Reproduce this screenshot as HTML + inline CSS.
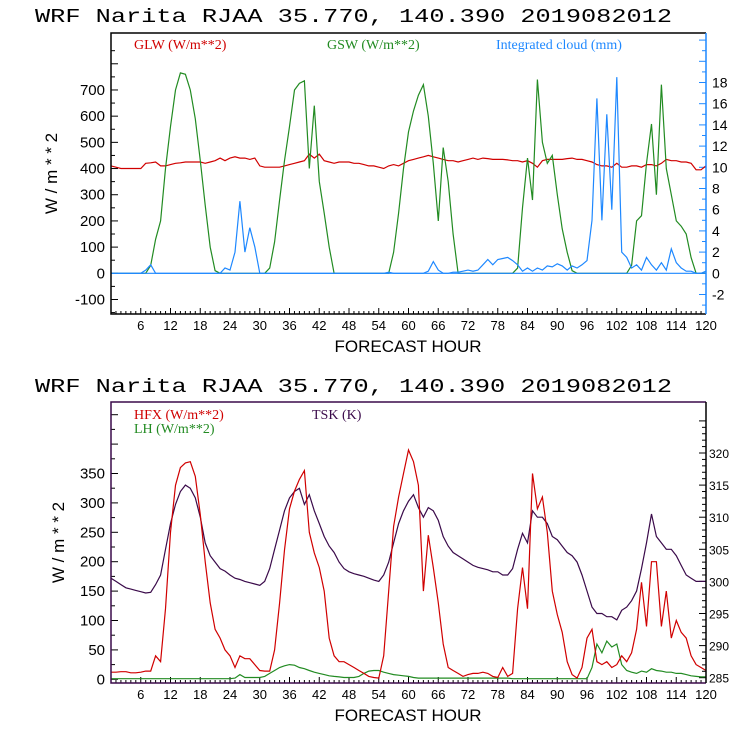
<!DOCTYPE html>
<html><head><meta charset="utf-8"><style>
body{margin:0;background:#fff}
svg{display:block}
</style></head><body>
<svg id="c" width="740" height="740" viewBox="0 0 740 740" xmlns="http://www.w3.org/2000/svg" font-family="Liberation Sans, sans-serif"></svg>
<script>
const hours=[];for(let i=0;i<=120;i++)hours.push(i);
const gsw=[0,0,0,0,0,0,0,0,30,130,200,400,560,700,765,760,700,590,430,260,100,10,0,0,0,0,0,0,0,0,0,0,20,120,280,430,560,700,725,735,400,640,350,230,100,0,0,0,0,0,0,0,0,0,0,0,0,80,230,400,540,620,680,720,600,420,200,480,350,150,0,0,0,0,0,0,0,0,0,0,0,0,20,250,440,280,740,500,420,450,300,170,80,10,0,0,0,0,0,0,0,0,0,0,0,30,200,220,420,570,300,720,400,300,200,180,150,60,0,0,0];
const glw=[410,405,400,400,400,400,400,420,422,425,410,410,415,420,422,425,425,425,425,420,425,430,440,430,440,445,440,440,435,440,410,405,405,405,405,410,415,420,425,430,455,440,455,430,425,420,425,425,425,420,420,415,410,410,405,400,410,415,410,420,430,435,440,445,450,445,440,435,430,430,425,430,435,440,435,440,438,435,435,435,433,430,430,425,430,420,405,430,435,435,435,435,438,440,435,435,430,425,415,410,410,405,420,405,405,410,410,405,415,415,410,420,435,430,430,425,425,420,395,395,410];
const cloud=[0,0,0,0,0,0,0,0.3,0.8,0,0,0,0,0,0,0,0,0,0,0,0,0,0,0.5,0.3,2,6.8,2,4.3,2.5,0,0,0,0,0,0,0,0,0,0,0,0,0,0,0,0,0,0,0,0,0,0,0,0,0,0,0.1,0,0,0,0,0,0,0,0.2,1.1,0.3,0,0,0.1,0.1,0.2,0.3,0.2,0.3,0.8,1.3,0.8,1.3,1.4,1.5,1.2,0.8,0.2,0.5,0.2,0.5,0.3,0.7,0.6,0.9,0.7,0.3,0.7,0.5,0.8,1.2,5,16.5,5,15,6,18.5,2,1.5,0.5,0.8,0.3,1.5,0.8,0.3,1,0.3,2.3,1,0.5,0.2,0.2,0,0,0.2];
const hfx=[12,12,13,13,11,11,12,14,14,40,30,120,250,330,360,368,370,345,280,200,130,85,70,50,40,20,40,35,35,25,15,14,14,50,130,220,290,320,340,355,250,215,190,150,70,40,30,30,25,20,15,10,5,3,2,40,150,260,310,350,390,370,330,150,245,190,130,60,20,15,10,5,8,10,10,12,10,5,3,20,5,10,120,190,120,350,290,310,250,150,110,80,30,8,2,20,70,85,30,25,30,20,25,40,30,45,85,165,90,200,200,90,150,70,100,80,70,40,25,20,15];
const lh=[1,1,1,1,1,1,1,1,1,1,1,1,1,1,1,1,1,1,1,1,1,1,1,1,1,2,8,3,3,3,3,5,10,15,20,23,25,24,20,18,15,12,10,8,6,5,4,3,3,3,5,10,14,15,15,12,10,8,7,6,5,3,2,2,2,2,2,2,2,2,2,2,2,2,2,2,2,2,2,2,2,1,1,1,1,1,1,1,1,1,1,1,1,1,1,1,1,20,60,45,65,55,60,25,15,12,10,14,12,18,15,14,12,12,10,10,8,6,5,4,4];
const tsk=[300.5,300,299.5,299,298.8,298.6,298.4,298.2,298.3,299.5,301,305,309,312,314,315,314.5,313,310,306,304,303,302,301.6,301,300.5,300.3,300,299.8,299.6,299.4,300,302,305,308,311,313,314,314.5,312,313.5,311,309,307,305.5,304.5,303,302,301.5,301.2,301,300.8,300.5,300.2,300,301,303,306,309,311,312.5,313.5,311.5,310,311.5,311,309.5,307,305.5,304.5,304,303.5,303,302.5,302.2,302,301.8,301.5,301.5,301,301,302,305,307.5,306,311,310,310,309,307,306.5,305.5,304.5,304,303,301,298.5,296,295,295,294.5,294.5,294,295.5,296,297,298.5,302,306,310.5,307,306,305,305,304,302.5,301,300.5,300,300,300];
const xTicks=[6,12,18,24,30,36,42,48,54,60,66,72,78,84,90,96,102,108,114,120];
const topLeftTicks=[-100,0,100,200,300,400,500,600,700];
const topRightTicks=[-2,0,2,4,6,8,10,12,14,16,18];
const botLeftTicks=[0,50,100,150,200,250,300,350];
const botRightTicks=[285,290,295,300,305,310,315,320];

const NS="http://www.w3.org/2000/svg";
const svg=document.getElementById('c');
function el(t,a,p){const e=document.createElementNS(NS,t);for(const k in a)e.setAttribute(k,a[k]);(p||svg).appendChild(e);return e;}
const X0=111,X1=706;
const xs=h=>X0+(X1-X0)*h/120;
function txt(s,x,y,size,fill,anchor,p){const t=el('text',{x:x,y:y,'font-size':size,fill:fill,'text-anchor':anchor||'start'},p);t.textContent=s;return t;}

function panel(cfg){
  const g=el('g',{});
  
  
  const title=txt('WRF  Narita RJAA   35.770, 140.390  2019082012',35,cfg.titleY,19,'#000','start',g);
  title.setAttribute('font-family','Liberation Mono, monospace');
  title.setAttribute('textLength','637');
  title.setAttribute('lengthAdjust','spacingAndGlyphs');
  
  
  const ly=cfg.ly, ry=cfg.ry;
  const tg=el('g',{stroke:'#000','stroke-width':1},g);
  
  
  for(let h=1;h<120;h++){const x=xs(h);el('line',{x1:x,x2:x,y1:cfg.bot,y2:cfg.bot-(h%6==0?6:3)},tg);}
  for(let v=cfg.lmin;v<=cfg.lmax;v+=cfg.lminor){const y=ly(v);el('line',{x1:X0,x2:X0+(v%cfg.lmajor==0?7:4),y1:y,y2:y},tg);}
  const rg=el('g',{stroke:cfg.rcolor,'stroke-width':1},g);
  for(let v=cfg.rmin;v<=cfg.rmax;v+=cfg.rminor){const y=ry(v);el('line',{x1:X1,x2:X1-(Math.abs(v%cfg.rmajor)<1e-6?7:4),y1:y,y2:y},rg);}
  xTicks.forEach(h=>{const t=txt(String(h),xs(h),cfg.bot+16,13,'#000','middle',g);});
  cfg.lticks.forEach(v=>{const t=txt(String(v),105,ly(v)+5,15,'#000','end',g);});
  cfg.rticks.forEach(v=>{const t=txt(String(v),cfg.rlx,ry(v)+5,cfg.rfs,'#000','start',g);});
  const xt=txt('FORECAST HOUR',408,cfg.bot+38,17,'#000','middle',g);
  
  const yt=txt('W / m * * 2',0,0,17,'#000','middle',g);
  yt.setAttribute('transform','translate('+cfg.ytx+','+((cfg.top+cfg.bot)/2)+') rotate(-90)');
  
  cfg.series.forEach(s=>{
    const pts=s.data.map((v,i)=>xs(hours[i]).toFixed(1)+','+s.scale(v).toFixed(1)).join(' ');
    const pl=el('polyline',{points:pts,fill:'none',stroke:s.color,'stroke-width':1.2},g);
    
    
  });
  if(cfg.zero){const z=el('line',{x1:X0,x2:X1,y1:ly(0),y2:ly(0),stroke:'#1e88ff','stroke-width':1.2},g);}
  el('polyline',{points:`${X1},${cfg.top} ${X0},${cfg.top} ${X0},${cfg.bot} ${X1},${cfg.bot}`,fill:'none',stroke:cfg.fcolor,'stroke-width':1.5},g);
  el('line',{x1:X1,x2:X1,y1:cfg.top,y2:cfg.bot,stroke:cfg.rcolor,'stroke-width':1.5},g);
  cfg.legend.forEach(l=>{const t=el('text',{x:l.x,y:l.y,'font-size':14,fill:l.color,'font-family':'Liberation Serif, serif'},g);t.textContent=l.t;});
}

const tly=v=>273.3-v*0.2619, try_=v=>273.3-v*10.6;
panel({name:'radiation-panel',titleY:22,top:33,bot:314,ly:tly,ry:try_,lmin:-150,lmax:850,lminor:50,lmajor:100,
  rmin:-3,rmax:22,rminor:1,rmajor:2,rcolor:'#1e88ff',fcolor:'#000',lticks:topLeftTicks,rticks:topRightTicks,rlx:712,rfs:14,ytx:57,zero:true,
  series:[{name:'glw-line',data:glw,color:'#d00000',scale:tly},{name:'gsw-line',data:gsw,color:'#228b22',scale:tly},{name:'cloud-line',data:cloud,color:'#1e88ff',scale:try_}],
  legend:[{t:'GLW (W/m**2)',x:134,y:49,color:'#d00000'},{t:'GSW (W/m**2)',x:327,y:49,color:'#228b22'},{t:'Integrated cloud (mm)',x:496,y:49,color:'#1e88ff'}]});
const bly=v=>679.3-v*0.588, bry=v=>677.7-(v-285)*6.42;
panel({name:'flux-panel',titleY:392,top:402,bot:683,ly:bly,ry:bry,lmin:0,lmax:450,lminor:25,lmajor:50,
  rmin:285,rmax:325,rminor:1,rmajor:5,rcolor:'#000',fcolor:'#3a0a4a',lticks:botLeftTicks,rticks:botRightTicks,rlx:709,rfs:12,ytx:64,zero:false,
  series:[{name:'lh-line',data:lh,color:'#228b22',scale:bly},{name:'tsk-line',data:tsk,color:'#3a0a4a',scale:bry},{name:'hfx-line',data:hfx,color:'#d00000',scale:bly}],
  legend:[{t:'HFX (W/m**2)',x:134,y:419,color:'#d00000'},{t:'LH  (W/m**2)',x:134,y:433,color:'#228b22'},{t:'TSK (K)',x:312,y:419,color:'#3a0a4a'}]});
</script>
</body></html>
